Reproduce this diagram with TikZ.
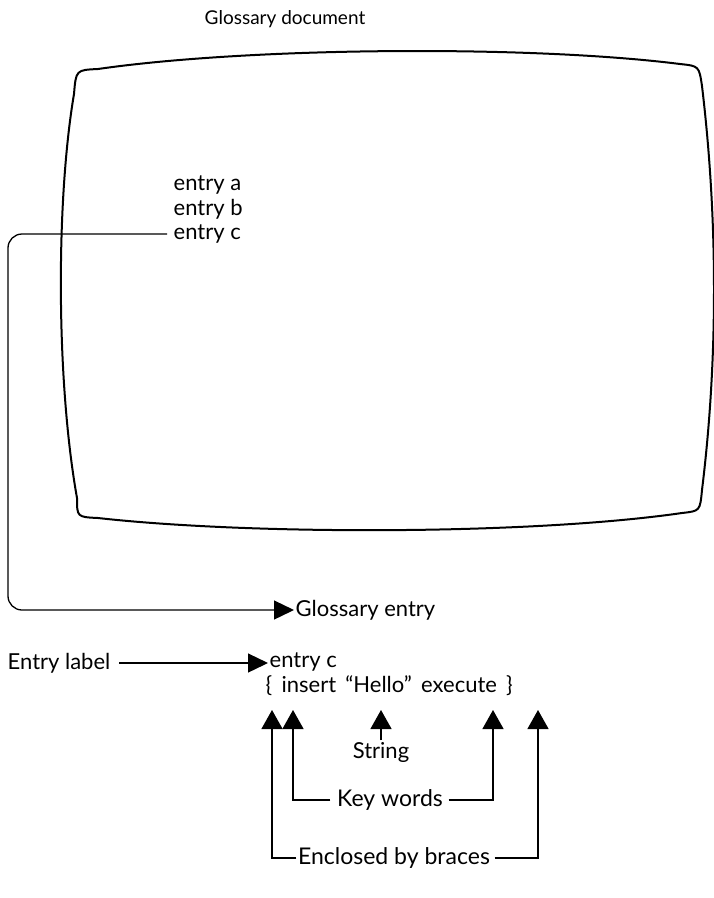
\documentclass[tikz,border=0pt]{standalone}
\usepackage{fontspec}
\setmainfont{Lato}
\usetikzlibrary{arrows.meta}
\newcommand{\gap}{\hspace{0.42em}}
\begin{document}
\begin{tikzpicture}[x=1pt,y=-1pt,
  lbl/.style={font=\fontsize{22}{26}\selectfont, inner sep=1.5pt, anchor=west},
  biglbl/.style={lbl, font=\fontsize{23}{27}\selectfont},
  conn/.style={line width=1.3pt},
  harrow/.style={-{Triangle[length=20pt,width=19pt]}},
  varrow/.style={-{Triangle[length=19pt,width=21pt]}},
  screen/.style={line width=2pt, line join=round}]
\useasboundingbox (0,0) rectangle (714,898);

% title
\node[lbl, anchor=center, font=\fontsize{19}{23}\selectfont] (title) at (285,19) {Glossary document};

% screen outline
\draw[screen] (98,69) .. controls (250,47) and (530,45) .. (680,64)
  .. controls (699,66) .. (702,86)
  .. controls (718,220) and (718,360) .. (702,490)
  .. controls (700,511) .. (682,513)
  .. controls (530,535) and (250,535) .. (98,518)
  .. controls (77,517) .. (77,498)
  .. controls (56,380) and (56,200) .. (74,94)
  .. controls (76,70) .. cycle;

% entries on screen
\node[lbl] (ea) at (172,185) {entry a};
\node[lbl] (eb) at (172,209) {entry b};
\node[lbl] (ec) at (172,234) {entry c};

% glossary entry
\node[lbl] (ge) at (294,610) {Glossary entry};
\coordinate (bend) at (8,420);
\draw[conn, harrow, rounded corners=14pt, shorten <=5pt] (ec.west) -| (bend) |- (ge.west);

% entry label
\node[lbl] (el) at (6,663) {Entry label};
\node[lbl] (ec2) at (268,662) {entry c};
\node[lbl] (cmd) at (264,686) {\{\gap insert\gap ``Hello''\gap execute\gap \}};
\draw[conn, harrow, shorten <=7pt] (el.east) -- (el.east -| ec2.west);

% pointer tips
\coordinate (t1) at (272,710);
\coordinate (t2) at (293,710);
\coordinate (t3) at (381,710);
\coordinate (t4) at (493,710);
\coordinate (t5) at (538,710);

\node[lbl, anchor=center] (str) at (381,752) {String};
\draw[conn, varrow] (str.north) -- (t3);

\node[biglbl, anchor=center] (kw) at (390,800) {Key words};
\draw[conn, varrow, shorten <=5pt] (kw.west) -| (t2);
\draw[conn, varrow, shorten <=4pt] (kw.east) -| (t4);

\node[biglbl, anchor=center] (enc) at (394,858) {Enclosed by braces};
\draw[conn, varrow] (enc.west) -| (t1);
\draw[conn, varrow, shorten <=3pt] (enc.east) -| (t5);
\end{tikzpicture}
\end{document}
